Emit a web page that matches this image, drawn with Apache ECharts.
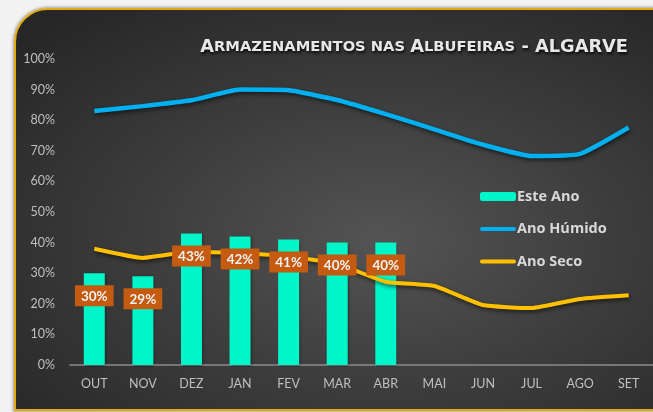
<!DOCTYPE html>
<html>
<head>
<meta charset="utf-8">
<script src="https://cdn.jsdelivr.net/npm/echarts@6/dist/echarts.min.js"></script>
<style>
  html, body { margin: 0; padding: 0; width: 653px; height: 412px; overflow: hidden; background: #f2f2f2; }
  #frame {
    position: absolute; left: 14px; top: 8px; width: 700px; height: 399px;
    border: 2px solid #e3aa10; border-top-left-radius: 34px;
    background: radial-gradient(ellipse 70% 75% at 52% 58%, #545454 0%, #3c3c3c 50%, #262626 100%);
    box-shadow: 0 0 3px 1px rgba(0,0,0,0.35);
  }
  #chart { position: absolute; left: 0; top: 0; width: 653px; height: 412px; }
</style>
</head>
<body>
<div id="frame"></div>
<div id="chart"></div>
<script>
// Monthly reservoir storage, Algarve (hydrological year Oct–Sep)
const months = ['OUT', 'NOV', 'DEZ', 'JAN', 'FEV', 'MAR', 'ABR', 'MAI', 'JUN', 'JUL', 'AGO', 'SET'];
const esteAno = [30, 29, 43, 42, 41, 40, 40];
const anoHumido = [83, 84.6, 86.5, 90, 89.8, 86.6, 82, 77, 72, 68.3, 69, 77.6];
const anoSeco = [38, 35, 37, 36.5, 35.5, 33, 27.2, 25.8, 19.6, 18.6, 21.6, 22.8];
const yTicks = { min: 0, max: 100, step: 10 };

const chart = echarts.init(document.getElementById('chart'), null, { renderer: 'canvas' });

const lineShadow = { shadowColor: 'rgba(0,0,0,0.6)', shadowBlur: 4, shadowOffsetX: 1, shadowOffsetY: 2 };
// legend glyph for the line series: a 4px rounded stroke centred in a 36x9 box
const lineIcon = 'path://M0,0h0.01v0.01h-0.01z M2,2.5h32a2,2 0 0 1 0,4h-32a2,2 0 0 1 0,-4z M35.99,8.99h0.01v0.01h-0.01z';
const titleFont = { fontWeight: 'bold', color: '#e8e8e8', fontFamily: '"DejaVu Sans"', textShadowColor: 'rgba(0,0,0,0.85)', textShadowBlur: 3, textShadowOffsetX: 1, textShadowOffsetY: 2 };

chart.setOption({
  backgroundColor: 'transparent',
  animation: false,
  textStyle: { fontFamily: 'Lato, "Open Sans", sans-serif' },
  title: {
    text: '{b|A}{s|RMAZENAMENTOS NAS }{b|A}{s|LBUFEIRAS}{b| - ALGARVE}',
    right: 20, top: 33,
    textStyle: {
      rich: {
        b: Object.assign({ fontSize: 17.8 }, titleFont),
        s: Object.assign({ fontSize: 14.7 }, titleFont)
      }
    }
  },
  legend: {
    orient: 'vertical', left: 475, top: 184,
    itemWidth: 36, itemHeight: 9, itemGap: 17.5,
    data: [
      { name: 'Este Ano' },
      { name: 'Ano Húmido', icon: lineIcon },
      { name: 'Ano Seco', icon: lineIcon }
    ],
    textStyle: { color: '#d9d9d9', fontSize: 14.5, fontWeight: 'bold', fontFamily: '"Open Sans"', padding: [0, 0, 0, -4] }
  },
  grid: { left: 70, top: 59, width: 587, height: 306 },
  xAxis: {
    type: 'category', data: months,
    axisLine: { lineStyle: { color: '#8c8c8c', width: 1.5 } },
    axisTick: { show: false },
    axisLabel: { color: '#bfbfbf', fontSize: 12.5, margin: 12 }
  },
  yAxis: {
    type: 'value', min: yTicks.min, max: yTicks.max, interval: yTicks.step,
    splitLine: { show: false },
    axisLine: { show: false },
    axisLabel: { color: '#bfbfbf', fontSize: 12.5, margin: 15, formatter: '{value}%' }
  },
  series: [
    {
      name: 'Este Ano', type: 'bar', data: esteAno, barWidth: 21, z: 1,
      itemStyle: { color: '#00f5c8', shadowColor: 'rgba(0,0,0,0.4)', shadowBlur: 3, shadowOffsetX: 1, shadowOffsetY: 1 }
    },
    {
      name: 'Ano Húmido', type: 'line', data: anoHumido, symbol: 'none', smooth: 0.15, z: 2,
      lineStyle: Object.assign({ color: '#00b0f0', width: 4.5 }, lineShadow),
      itemStyle: { color: '#00b0f0' }
    },
    {
      name: 'Ano Seco', type: 'line', data: anoSeco, symbol: 'none', smooth: 0.15, z: 2,
      lineStyle: Object.assign({ color: '#ffc000', width: 4 }, lineShadow),
      itemStyle: { color: '#ffc000' }
    },
    {
      // value labels for the bars, kept above the lines
      name: 'rótulos', type: 'bar', data: esteAno, barWidth: 21, barGap: '-100%', z: 5,
      itemStyle: { color: 'rgba(0,0,0,0)' },
      label: {
        show: true, position: 'insideTop', distance: 12, formatter: '{c}%',
        color: '#f2f2f2', fontSize: 13.5, fontWeight: 'bold',
        backgroundColor: '#c55a11', padding: [4, 6, 3, 6]
      }
    }
  ]
});
</script>
</body>
</html>
